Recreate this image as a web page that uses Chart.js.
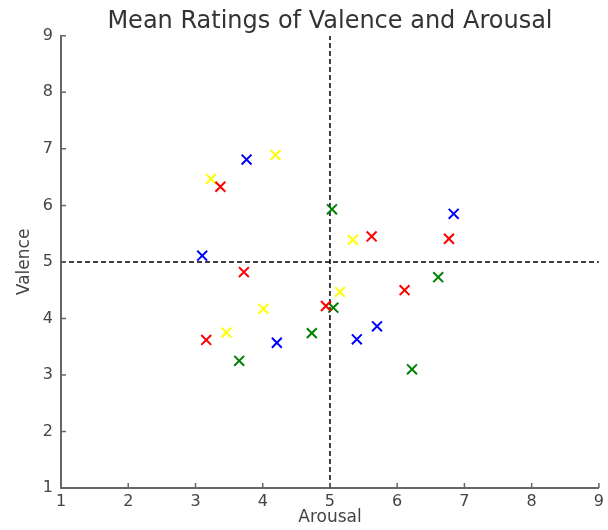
<!DOCTYPE html>
<html>
<head>
<meta charset="utf-8">
<script src="https://cdn.jsdelivr.net/npm/chart.js@4/dist/chart.umd.min.js"></script>
<style>
  html, body { margin: 0; padding: 0; background: #fff; }
  #wrap { width: 608px; height: 530px; }
</style>
</head>
<body>
<div id="wrap"><canvas id="chart"></canvas></div>
<script>
// values (arousal = x, valence = y)
const blueX = [3.76, 3.10, 6.84, 4.21, 5.40, 5.70];
const blueY = [6.81, 5.11, 5.85, 3.57, 3.63, 3.86];
const redX = [3.37, 3.72, 5.62, 6.77, 6.11, 4.94, 3.16];
const redY = [6.33, 4.82, 5.45, 5.41, 4.50, 4.22, 3.62];
const yellowX = [4.19, 3.23, 5.34, 5.15, 4.01, 3.46];
const yellowY = [6.89, 6.47, 5.39, 4.47, 4.17, 3.75];
const greenX = [5.03, 6.61, 5.05, 3.65, 4.73, 6.22];
const greenY = [5.93, 4.73, 4.19, 3.25, 3.74, 3.10];

const axisTicks = [1, 2, 3, 4, 5, 6, 7, 8, 9];
const midLine = 5;

const pts = (xs, ys) => xs.map((x, i) => ({ x: x, y: ys[i] }));

const markerSet = (xs, ys, color) => ({
    data: pts(xs, ys),
    pointStyle: 'crossRot',
    pointRadius: 7,
    pointHoverRadius: 7,
    borderWidth: 2,
    pointBorderWidth: 2,
    borderColor: color,
    backgroundColor: color,
    showLine: false
});

const dashSet = (data) => ({
    data: data,
    showLine: true,
    borderColor: '#000',
    borderWidth: 1.5,
    borderDash: [5, 3],
    pointRadius: 0,
    pointHoverRadius: 0,
    fill: false
});

const lo = axisTicks[0], hi = axisTicks[axisTicks.length - 1];

// small inward tick marks, like the matplotlib original
const inwardTicks = {
    id: 'inwardTicks',
    afterDraw(chart) {
        const { ctx, chartArea, scales } = chart;
        ctx.save();
        ctx.strokeStyle = '#666';
        ctx.lineWidth = 1.5;
        ctx.beginPath();
        axisTicks.forEach(v => {
            const px = scales.x.getPixelForValue(v);
            ctx.moveTo(px, chartArea.bottom);
            ctx.lineTo(px, chartArea.bottom - 5);
            const py = scales.y.getPixelForValue(v);
            ctx.moveTo(chartArea.left, py);
            ctx.lineTo(chartArea.left + 5, py);
        });
        ctx.stroke();
        ctx.restore();
    }
};

const font = 'DejaVu Sans';

new Chart(document.getElementById('chart'), {
    type: 'scatter',
    data: {
        datasets: [
            markerSet(blueX, blueY, '#0000ff'),
            markerSet(redX, redY, '#ff0000'),
            markerSet(yellowX, yellowY, '#ffff00'),
            markerSet(greenX, greenY, '#008000'),
            dashSet([{ x: midLine, y: lo }, { x: midLine, y: hi }]),
            dashSet([{ x: lo, y: midLine }, { x: hi, y: midLine }])
        ]
    },
    options: {
        responsive: true,
        maintainAspectRatio: false,
        animation: false,
        layout: { padding: { left: 0, right: 8, top: 0, bottom: 0 } },
        scales: {
            x: {
                type: 'linear',
                min: lo,
                max: hi,
                afterFit: s => { s.height = 42; },
                afterBuildTicks: s => { s.ticks = axisTicks.map(v => ({ value: v })); },
                grid: { display: true, drawOnChartArea: false, drawTicks: false },
                border: { color: '#666', width: 2 },
                ticks: {
                    padding: 4,
                    color: '#444',
                    font: { family: font, size: 16 }
                },
                title: {
                    display: true,
                    text: 'Arousal',
                    color: '#444',
                    font: { family: font, size: 17 },
                    padding: { top: 0, bottom: 2 }
                }
            },
            y: {
                type: 'linear',
                min: lo,
                max: hi,
                afterFit: s => { s.width = 61; },
                afterBuildTicks: s => { s.ticks = axisTicks.map(v => ({ value: v })); },
                grid: { display: true, drawOnChartArea: false, drawTicks: false },
                border: { color: '#666', width: 2 },
                ticks: {
                    padding: 8,
                    color: '#444',
                    font: { family: font, size: 16 }
                },
                title: {
                    display: true,
                    text: 'Valence',
                    color: '#444',
                    font: { family: font, size: 17 },
                    padding: { top: 14, bottom: 0 }
                }
            }
        },
        plugins: {
            legend: { display: false },
            tooltip: { enabled: false },
            title: {
                display: true,
                fullSize: false,
                text: 'Mean Ratings of Valence and Arousal',
                color: '#333',
                font: { family: font, size: 24, weight: 'normal' },
                padding: { top: 7, bottom: 0 }
            }
        }
    },
    plugins: [inwardTicks]
});
</script>
</body>
</html>
